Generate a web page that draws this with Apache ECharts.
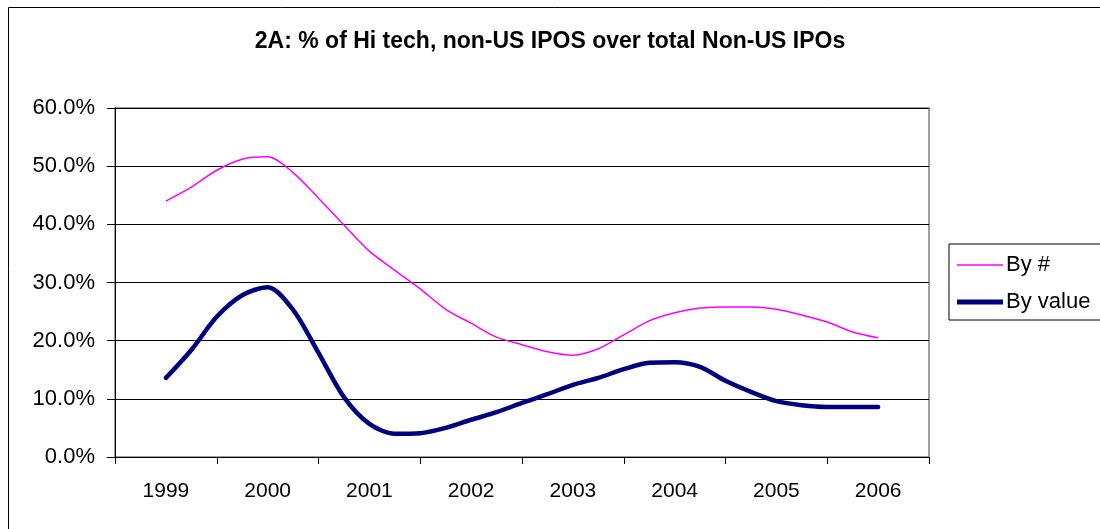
<!DOCTYPE html>
<html>
<head>
<meta charset="utf-8">
<script src="https://cdn.jsdelivr.net/npm/echarts@6/dist/echarts.min.js"></script>
<style>
  html, body { margin: 0; padding: 0; background: #fff; }
  #chart { width: 1100px; height: 529px; }
</style>
</head>
<body>
<div id="chart"></div>
<script>
// Années affichées sur l'axe
const years = ['1999', '2000', '2001', '2002', '2003', '2004', '2005', '2006'];

// Valeurs trimestrielles (en %), de 1999 à 2006
const byCount = [44.0, 46.4, 49.3, 51.2, 51.6, 48.9, 44.5, 39.9, 35.4, 32.1, 28.9, 25.4, 23.0, 20.6, 19.3,
    18.1, 17.5, 18.6, 21.0, 23.4, 24.8, 25.6, 25.8, 25.8, 25.4, 24.4, 23.2, 21.5, 20.5];
const byValue = [13.6, 18.4, 24.1, 27.8, 29.2, 25.3, 17.9, 10.3, 5.7, 4.0, 4.1, 5.0, 6.4, 7.7, 9.3,
    10.8, 12.4, 13.6, 15.1, 16.2, 16.3, 15.5, 13.1, 11.2, 9.6, 8.9, 8.6, 8.6, 8.6];

const font = 'Liberation Sans, Arial, sans-serif';

const chart = echarts.init(document.getElementById('chart'));

chart.setOption({
    animation: false,
    backgroundColor: '#fff',
    title: {
        text: '2A: % of Hi tech, non-US IPOS over total Non-US IPOs',
        left: 'center',
        top: 25,
        textStyle: { fontFamily: font, fontSize: 23, fontWeight: 'bold', color: '#000' }
    },
    graphic: [
        {
            // cadre de la zone du graphique
            type: 'rect',
            shape: { x: 8.5, y: 7.5, width: 1200, height: 600 },
            style: { fill: 'none', stroke: '#000', lineWidth: 1 },
            z: 0
        }
    ],
    legend: {
        orient: 'vertical',
        left: 949,
        top: 244,
        padding: [10, 60, 7, 8],
        itemWidth: 46,
        itemHeight: 14,
        itemGap: 15,
        borderColor: '#000',
        borderWidth: 1,
        textStyle: { fontFamily: font, fontSize: 22, color: '#000', padding: [0, 0, 0, -2] },
        data: [
            { name: 'By #', icon: 'path://M0 0H46V1.5H0Z' },
            { name: 'By value', icon: 'path://M0 0H46V5H0Z' }
        ]
    },
    grid: {
        left: 115, right: 171, top: 108, bottom: 72, containLabel: false,
        show: true, borderColor: '#808080', borderWidth: 1.5
    },
    xAxis: [
        {
            type: 'category',
            data: years,
            boundaryGap: true,
            axisLine: { lineStyle: { color: '#000', width: 1 } },
            axisTick: { show: true, length: 7, lineStyle: { color: '#000' } },
            axisLabel: { fontFamily: font, fontSize: 21, color: '#000', margin: 24 },
            splitLine: { show: false }
        },
        {
            type: 'value',
            min: -2,
            max: 30,
            show: false
        }
    ],
    yAxis: {
        type: 'value',
        min: 0,
        max: 60,
        interval: 10,
        axisLine: { show: true, onZero: false, lineStyle: { color: '#000', width: 1 } },
        axisTick: { show: true, inside: false, length: 8, lineStyle: { color: '#000', width: 1 } },
        axisLabel: {
            fontFamily: font, fontSize: 22, color: '#000', margin: 20,
            formatter: v => v.toFixed(1) + '%'
        },
        splitLine: { lineStyle: { color: '#000', width: 1 } }
    },
    series: [
        {
            name: 'By #',
            type: 'line',
            xAxisIndex: 1,
            smooth: 0.3,
            symbol: 'none',
            data: byCount.map((v, i) => [i, v]),
            lineStyle: { color: '#FF00FF', width: 1.5 },
            itemStyle: { color: '#FF00FF' }
        },
        {
            name: 'By value',
            type: 'line',
            xAxisIndex: 1,
            smooth: 0.3,
            symbol: 'none',
            data: byValue.map((v, i) => [i, v]),
            lineStyle: { color: '#000080', width: 4.5, cap: 'round' },
            itemStyle: { color: '#000080' }
        }
    ]
});
</script>
</body>
</html>
